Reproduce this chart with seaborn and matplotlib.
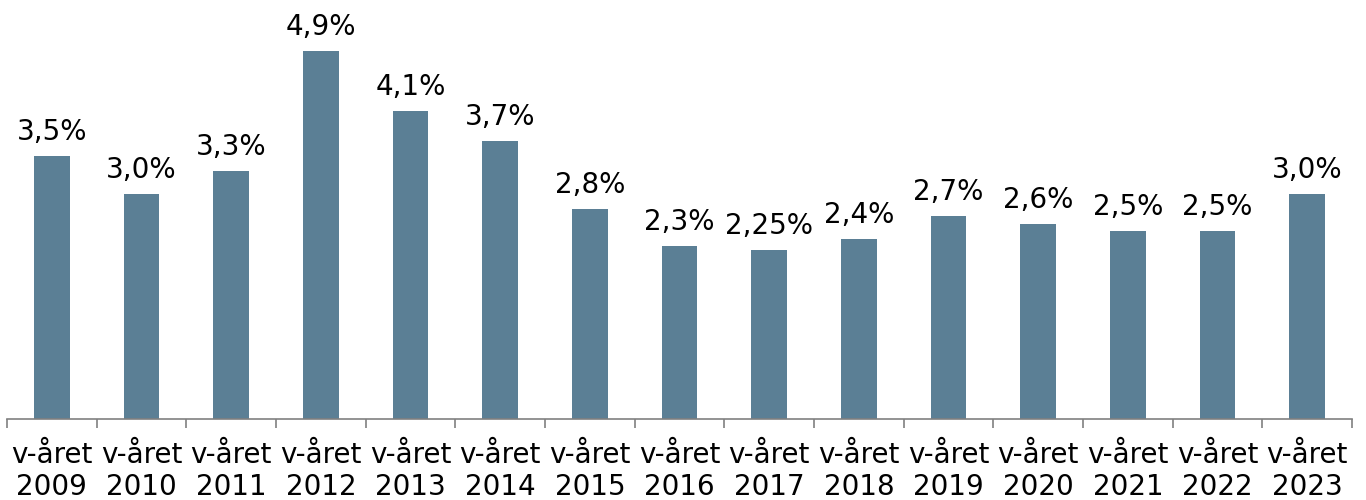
import matplotlib
matplotlib.use("Agg")
import matplotlib.pyplot as plt
import seaborn as sns
import pandas as pd

years = ["2009", "2010", "2011", "2012", "2013", "2014", "2015", "2016",
         "2017", "2018", "2019", "2020", "2021", "2022", "2023"]
values = [3.5, 3.0, 3.3, 4.9, 4.1, 3.7, 2.8, 2.3, 2.25, 2.4, 2.7, 2.6, 2.5, 2.5, 3.0]
labels = ["3,5%", "3,0%", "3,3%", "4,9%", "4,1%", "3,7%", "2,8%", "2,3%",
          "2,25%", "2,4%", "2,7%", "2,6%", "2,5%", "2,5%", "3,0%"]
categories = ["v-året\n" + y for y in years]

sns.set_theme(style="white")
plt.rcParams['font.family'] = ['DejaVu Sans']

df = pd.DataFrame({"cat": categories, "val": values})

fig = plt.figure(figsize=(13.66, 5), dpi=100)
ax = fig.add_axes([7/1366, 81/500, (1352-7)/1366, 419/500])
sns.barplot(data=df, x="cat", y="val", color="#5B7F95", saturation=1,
            width=0.4, ax=ax)
for p in ax.patches:
    p.set_edgecolor("none")

ax.set_ylim(0, 5.58)
ax.set_xlim(-0.5, len(values) - 0.5)
for i, (v, l) in enumerate(zip(values, labels)):
    ax.annotate(l, (i, v), xytext=(0, 11.5), textcoords="offset points",
                ha="center", va="baseline", fontsize=20, color="black")

ax.set_xlabel("")
ax.set_ylabel("")
ax.set_yticks([])
for s in ["top", "right", "left"]:
    ax.spines[s].set_visible(False)
ax.spines["bottom"].set_color("#808080")
ax.spines["bottom"].set_linewidth(1.2)

ax.set_xticks([i for i in range(len(values))])
ax.set_xticklabels(categories, fontsize=20, color="black", linespacing=1.17)
ax.tick_params(axis="x", length=0, pad=16)
# separator ticks between categories
ax.set_xticks([i - 0.5 for i in range(len(values) + 1)], minor=True)
ax.tick_params(axis="x", which="minor", length=6.5, width=1.2, color="#808080",
               bottom=True, direction="out")

fig.savefig("out.png", dpi=100)
